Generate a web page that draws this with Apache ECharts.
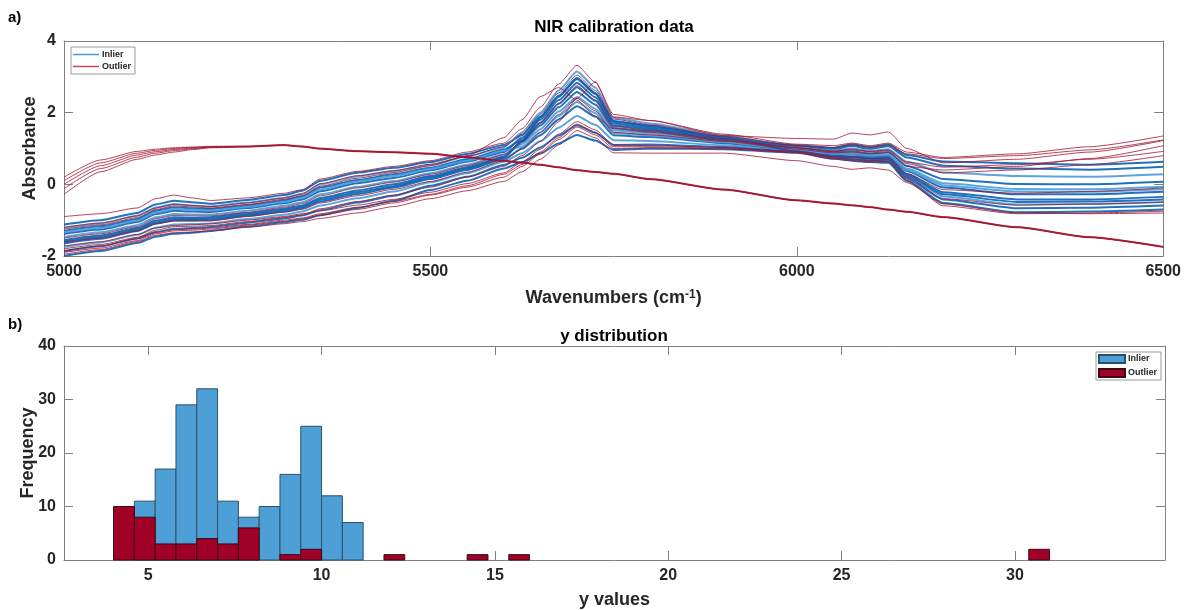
<!DOCTYPE html>
<html>
<head>
<meta charset="utf-8">
<script src="https://cdn.jsdelivr.net/npm/echarts@6/dist/echarts.min.js"></script>
<style>
  body { margin: 0; background: #fff; }
  #main { width: 1184px; height: 610px; }
</style>
</head>
<body>
<div id="main"></div>
<script>
// wavenumber grid (cm-1) for the spectra
const wavenumbers = [5000, 5050, 5100, 5125, 5150, 5175, 5200, 5250, 5300, 5325, 5350, 5400, 5450, 5500, 5550, 5600, 5625, 5650, 5675, 5700, 5725, 5750, 5800, 5900, 6000, 6050, 6075, 6100, 6125, 6150, 6200, 6300, 6400, 6500];

// inlier spectra
const inlier01 = [-1.12,-1.00,-0.80,-0.56,-0.46,-0.50,-0.54,-0.44,-0.30,-0.18,0.10,0.32,0.46,0.62,0.85,1.10,1.37,1.89,2.47,2.97,2.55,1.77,1.63,1.32,1.09,1.02,1.12,1.04,1.11,0.82,0.64,0.59,0.55,0.63];
const inlier02 = [-1.21,-1.09,-0.88,-0.65,-0.55,-0.59,-0.62,-0.51,-0.38,-0.26,0.00,0.22,0.37,0.54,0.78,1.03,1.45,2.00,2.62,3.15,2.70,1.86,1.70,1.36,1.03,0.94,1.00,0.93,0.98,0.63,0.33,0.23,0.21,0.28];
const inlier03 = [-1.30,-1.17,-0.97,-0.74,-0.64,-0.67,-0.69,-0.59,-0.45,-0.34,-0.09,0.12,0.28,0.46,0.70,0.97,1.24,1.72,2.25,2.71,2.33,1.64,1.53,1.27,1.07,0.99,1.07,0.99,1.06,0.75,0.52,0.44,0.41,0.49];
const inlier04 = [-1.38,-1.26,-1.05,-0.83,-0.74,-0.76,-0.77,-0.66,-0.53,-0.42,-0.19,0.03,0.18,0.39,0.63,0.90,1.30,1.80,2.35,2.83,2.43,1.70,1.57,1.29,1.00,0.90,0.92,0.86,0.90,0.52,0.15,0.01,0.00,0.07];
const inlier05 = [-1.47,-1.34,-1.14,-0.92,-0.83,-0.84,-0.84,-0.74,-0.60,-0.50,-0.28,-0.07,0.09,0.31,0.55,0.84,1.12,1.54,2.03,2.44,2.11,1.50,1.42,1.21,0.98,0.86,0.88,0.82,0.84,0.44,0.03,-0.13,-0.14,-0.07];
const inlier06 = [-1.56,-1.43,-1.22,-1.01,-0.92,-0.93,-0.92,-0.81,-0.68,-0.59,-0.38,-0.17,0.00,0.23,0.48,0.77,1.18,1.64,2.15,2.58,2.23,1.57,1.48,1.24,0.96,0.83,0.83,0.77,0.79,0.37,-0.09,-0.28,-0.28,-0.21];
const inlier07 = [-1.65,-1.52,-1.30,-1.10,-1.01,-1.01,-1.00,-0.88,-0.76,-0.67,-0.48,-0.27,-0.09,0.15,0.40,0.70,0.99,1.37,1.81,2.18,1.89,1.37,1.32,1.15,0.94,0.80,0.78,0.73,0.74,0.29,-0.22,-0.42,-0.42,-0.35];
const inlier08 = [-1.75,-1.62,-1.41,-1.21,-1.12,-1.11,-1.09,-0.97,-0.85,-0.76,-0.59,-0.39,-0.20,0.06,0.31,0.63,0.87,1.20,1.58,1.91,1.66,1.23,1.21,1.09,0.91,0.77,0.73,0.69,0.68,0.21,-0.34,-0.56,-0.55,-0.49];
const inlier09 = [-1.87,-1.73,-1.51,-1.33,-1.24,-1.22,-1.19,-1.07,-0.95,-0.87,-0.72,-0.51,-0.32,-0.04,0.21,0.54,0.74,1.03,1.36,1.65,1.44,1.10,1.11,1.04,0.90,0.75,0.70,0.66,0.64,0.16,-0.42,-0.67,-0.65,-0.59];
const inlier10 = [-2.00,-1.86,-1.64,-1.46,-1.38,-1.35,-1.30,-1.18,-1.06,-0.99,-0.86,-0.66,-0.46,-0.16,0.10,0.44,0.62,0.86,1.14,1.38,1.22,0.96,1.00,0.98,0.88,0.72,0.66,0.62,0.60,0.10,-0.52,-0.78,-0.76,-0.70];
const inlier11 = [-1.34,-1.22,-1.01,-0.79,-0.69,-0.71,-0.73,-0.63,-0.49,-0.38,-0.14,0.08,0.23,0.43,0.66,0.94,1.05,1.45,1.91,2.30,1.99,1.43,1.36,1.18,0.97,0.85,0.85,0.80,0.82,0.40,-0.03,-0.20,-0.21,-0.14];
const inlier12 = [-1.60,-1.47,-1.26,-1.06,-0.97,-0.97,-0.96,-0.85,-0.72,-0.63,-0.43,-0.22,-0.05,0.19,0.44,0.74,1.20,1.86,2.44,2.94,2.52,1.75,1.62,1.31,0.92,0.78,0.76,0.71,0.71,0.25,-0.28,-0.49,-0.48,-0.42];

// outlier spectra
const outlier01 = [-0.90,-0.82,-0.66,-0.40,-0.30,-0.38,-0.45,-0.38,-0.25,-0.15,0.15,0.36,0.50,0.66,0.90,1.15,1.55,2.15,2.80,3.32,2.85,1.95,1.78,1.40,1.12,1.08,1.15,1.08,1.15,0.90,0.75,0.85,1.05,1.35];
const outlier02 = [-1.80,-1.68,-1.48,-1.28,-1.18,-1.17,-1.15,-1.04,-0.92,-0.85,-0.68,-0.48,-0.30,-0.08,0.20,0.50,0.80,1.20,1.75,2.40,2.86,1.88,1.78,1.36,1.28,1.26,1.43,1.38,1.46,1.00,0.60,0.70,0.90,1.22];
const outlier03 = [-1.25,-1.13,-0.93,-0.70,-0.60,-0.63,-0.66,-0.56,-0.42,-0.31,-0.05,0.17,0.33,0.52,0.80,1.30,1.80,2.45,2.70,2.35,1.90,1.55,1.45,1.22,1.02,0.93,0.98,0.92,0.96,0.58,0.32,0.40,0.55,0.80];
const outlier04 = [-1.95,-1.82,-1.60,-1.42,-1.35,-1.33,-1.30,-1.20,-1.10,-1.04,-0.95,-0.80,-0.62,-0.40,-0.18,0.08,0.35,0.70,1.10,1.50,1.30,0.88,0.87,0.87,0.66,0.50,0.42,0.46,0.40,0.05,-0.55,-0.80,-0.82,-0.80];
const outlier05 = [-1.90,-1.78,-1.57,-1.38,-1.30,-1.28,-1.25,-1.14,-1.03,-0.96,-0.86,-0.70,-0.52,-0.30,-0.08,0.20,0.50,0.85,1.25,1.60,1.38,1.00,1.02,0.99,0.88,0.70,0.66,0.62,0.64,0.10,-0.60,-0.82,-0.80,-0.75];
const outlier06 = [-1.72,-1.60,-1.40,-1.22,-1.15,-1.13,-1.10,-1.00,-0.90,-0.82,-0.74,-0.58,-0.42,-0.22,0.02,0.32,0.62,0.98,1.40,1.75,1.52,1.10,1.08,1.03,0.90,0.74,0.70,0.66,0.68,0.20,-0.40,-0.58,-0.55,-0.50];
const outlier07 = [-1.20,-1.08,-0.88,-0.66,-0.56,-0.59,-0.62,-0.52,-0.38,-0.27,0.02,0.24,0.38,0.56,0.78,1.05,1.40,1.95,2.55,3.05,2.62,1.82,1.66,1.34,1.08,1.02,1.10,1.03,1.10,0.85,0.72,0.80,0.96,1.24];
const outlier08 = [-1.50,-1.38,-1.18,-0.96,-0.87,-0.88,-0.88,-0.78,-0.64,-0.54,-0.32,-0.10,0.06,0.28,0.52,0.82,1.20,1.70,2.25,2.75,2.35,1.62,1.50,1.26,1.02,0.92,0.96,0.90,0.94,0.62,0.48,0.55,0.70,0.92];
const outlier09 = [-1.85,-1.72,-1.52,-1.35,-1.27,-1.25,-1.22,-1.12,-1.00,-0.94,-0.82,-0.64,-0.48,-0.28,-0.04,0.28,0.55,0.90,1.30,1.68,1.45,1.05,1.05,1.01,0.92,0.78,0.76,0.72,0.74,0.30,-0.15,-0.25,-0.20,-0.10];
const outlier10 = [-1.62,-1.50,-1.30,-1.10,-1.02,-1.02,-1.02,-0.90,-0.78,-0.70,-0.52,-0.32,-0.14,0.08,0.34,0.66,1.00,1.45,1.95,2.40,2.05,1.45,1.38,1.20,0.98,0.88,0.90,0.85,0.88,0.50,0.40,0.50,0.72,1.08];
// the odd group that rises early and then falls away
const outlier11 = [0.20,0.68,0.92,0.98,1.02,1.04,1.06,1.07,1.11,1.07,1.01,0.94,0.91,0.87,0.77,0.67,0.62,0.56,0.49,0.41,0.36,0.31,0.16,-0.13,-0.43,-0.52,-0.57,-0.62,-0.69,-0.75,-0.90,-1.18,-1.46,-1.73];
const outlier12 = [0.10,0.60,0.87,0.95,1.00,1.03,1.05,1.06,1.10,1.06,1.00,0.93,0.90,0.86,0.76,0.66,0.61,0.55,0.48,0.40,0.35,0.30,0.15,-0.14,-0.44,-0.53,-0.58,-0.63,-0.70,-0.76,-0.91,-1.19,-1.47,-1.74];
const outlier13 = [0.00,0.52,0.82,0.91,0.97,1.01,1.04,1.05,1.09,1.05,0.99,0.92,0.89,0.85,0.75,0.65,0.60,0.54,0.47,0.39,0.34,0.29,0.14,-0.15,-0.45,-0.54,-0.59,-0.64,-0.71,-0.77,-0.92,-1.20,-1.48,-1.75];
const outlier14 = [-0.12,0.44,0.76,0.87,0.94,0.99,1.03,1.05,1.09,1.05,0.99,0.92,0.89,0.85,0.75,0.65,0.60,0.54,0.47,0.39,0.34,0.29,0.14,-0.15,-0.45,-0.54,-0.59,-0.64,-0.71,-0.77,-0.92,-1.20,-1.48,-1.75];
const outlier15 = [-0.28,0.35,0.70,0.82,0.90,0.97,1.02,1.04,1.08,1.04,0.98,0.91,0.88,0.84,0.74,0.64,0.59,0.53,0.46,0.38,0.33,0.28,0.13,-0.16,-0.46,-0.55,-0.60,-0.65,-0.72,-0.78,-0.93,-1.21,-1.49,-1.76];

const inlierSpectra = [inlier01, inlier02, inlier03, inlier04, inlier05, inlier06, inlier07, inlier08, inlier09, inlier10, inlier11, inlier12];
const outlierSpectra = [outlier01, outlier02, outlier03, outlier04, outlier05, outlier06, outlier07, outlier08, outlier09, outlier10, outlier11, outlier12, outlier13, outlier14, outlier15];

// y histogram (bin left edge, counts), bin width 0.6
const binWidth = 0.6;
const inlierBins = [4.6, 5.2, 5.8, 6.4, 7.0, 7.6, 8.2, 8.8, 9.4, 10.0, 10.6];
const inlierCounts = [11, 17, 29, 32, 11, 8, 10, 16, 25, 12, 7];
const outlierBins = [4.0, 4.6, 5.2, 5.8, 6.4, 7.0, 7.6, 8.8, 9.4, 11.8, 14.2, 15.4, 30.4];
const outlierCounts = [10, 8, 3, 3, 4, 3, 6, 1, 2, 1, 1, 1, 2];

const histTicks = [5, 10, 15, 20, 25, 30];

const FONT = "Liberation Sans, Arial, Helvetica, sans-serif";
const TXT = "#262626";
const AX = "#808080";
const BLUE = "#0a62b4";
const RED = "#a2142f";

let chart = echarts.init(document.getElementById("main"));

function axisBase(extra) {
  return Object.assign({
    type: "value",
    axisLine: { show: true, onZero: false, lineStyle: { color: AX, width: 1 } },
    axisTick: { show: true, inside: true, length: 9, lineStyle: { color: AX } },
    axisLabel: { color: TXT, fontSize: 16, fontWeight: "bold", fontFamily: FONT, margin: 8,
      formatter: function(v) { return String(v); } },
    splitLine: { show: false }
  }, extra);
}
function mirror(extra) {
  let a = axisBase(extra);
  a.axisLabel = { show: false };
  return a;
}

let series = [];
inlierSpectra.forEach(function(curve, k) {
  let c = k % 3 === 1 ? "#4a9ad8" : BLUE;
  series.push({
    name: "Inlier",
    type: "line",
    xAxisIndex: 0, yAxisIndex: 0,
    data: wavenumbers.map(function(w, i) { return [w, curve[i]]; }),
    symbol: "none",
    smooth: 0.2,
    smoothMonotone: "x",
    itemStyle: { color: "#4a9ad8" },
    lineStyle: { width: 2, color: c, opacity: 0.9 },
    silent: true,
    z: 2
  });
});
outlierSpectra.forEach(function(curve) {
  series.push({
    name: "Outlier",
    type: "line",
    xAxisIndex: 0, yAxisIndex: 0,
    data: wavenumbers.map(function(w, i) { return [w, curve[i]]; }),
    symbol: "none",
    smooth: 0.2,
    smoothMonotone: "x",
    itemStyle: { color: "#c2495f" },
    lineStyle: { width: 1, color: RED, opacity: 0.8 },
    silent: true,
    z: 3
  });
});

function histRender(fill, stroke) {
  return function(params, api) {
    let p0 = api.coord([api.value(0), 0]);
    let p1 = api.coord([api.value(1), api.value(2)]);
    return {
      type: "rect",
      shape: { x: p0[0], y: p1[1], width: p1[0] - p0[0], height: p0[1] - p1[1] },
      style: { fill: fill, stroke: stroke, lineWidth: 1 }
    };
  };
}

series.push({
  name: "Inlier ",
  type: "custom",
  xAxisIndex: 2, yAxisIndex: 2,
  renderItem: histRender("#4d9fd6", "#2d4f6a"),
  itemStyle: { color: "#4d9fd6", borderColor: "#2d4f6a", borderWidth: 1 },
  encode: { x: [0, 1], y: 2 },
  data: inlierBins.map(function(b, i) { return [b, b + binWidth, inlierCounts[i]]; }),
  z: 2
});
series.push({
  name: "Outlier ",
  type: "custom",
  xAxisIndex: 2, yAxisIndex: 2,
  renderItem: histRender("#a10027", "#3b0a14"),
  itemStyle: { color: "#a10027", borderColor: "#3b0a14", borderWidth: 1 },
  encode: { x: [0, 1], y: 2 },
  data: outlierBins.map(function(b, i) { return [b, b + binWidth, outlierCounts[i]]; }),
  z: 3
});

let legendText = { fontSize: 9, fontWeight: "bold", color: TXT, fontFamily: FONT, padding: [0, 0, 0, -2] };

let option = {
  backgroundColor: "#ffffff",
  animation: false,
  grid: [
    { left: 64, top: 41, width: 1100, height: 215 },
    { left: 64, top: 346, width: 1101, height: 215 }
  ],
  xAxis: [
    axisBase({
      gridIndex: 0, position: "bottom", min: 5000, max: 6500, interval: 500,
      name: "{t|Wavenumbers (cm}{s|-1}{t|)}",
      nameLocation: "middle", nameGap: 33,
      nameTextStyle: {
        rich: {
          t: { fontSize: 18, fontWeight: "bold", color: TXT, fontFamily: FONT },
          s: { fontSize: 12, fontWeight: "bold", color: TXT, fontFamily: FONT, verticalAlign: "top" }
        }
      }
    }),
    mirror({ gridIndex: 0, position: "top", min: 5000, max: 6500, interval: 500 }),
    axisBase({
      gridIndex: 1, position: "bottom", min: 2.57, max: 34.33,
      axisTick: { show: true, inside: true, length: 9, lineStyle: { color: AX }, customValues: histTicks },
      axisLabel: { color: TXT, fontSize: 16, fontWeight: "bold", fontFamily: FONT, margin: 8, customValues: histTicks },
      name: "y values", nameLocation: "middle", nameGap: 31,
      nameTextStyle: { fontSize: 18, fontWeight: "bold", color: TXT, fontFamily: FONT }
    }),
    mirror({
      gridIndex: 1, position: "top", min: 2.57, max: 34.33,
      axisTick: { show: true, inside: true, length: 9, lineStyle: { color: AX }, customValues: histTicks }
    })
  ],
  yAxis: [
    axisBase({
      gridIndex: 0, position: "left", min: -2, max: 4, interval: 2,
      name: "Absorbance", nameLocation: "middle", nameGap: 25, nameRotate: 90, nameMoveOverlap: false,
      nameTextStyle: { fontSize: 18, fontWeight: "bold", color: TXT, fontFamily: FONT }
    }),
    mirror({ gridIndex: 0, position: "right", min: -2, max: 4, interval: 2 }),
    axisBase({
      gridIndex: 1, position: "left", min: 0, max: 40, interval: 10,
      name: "Frequency", nameLocation: "middle", nameGap: 27, nameRotate: 90, nameMoveOverlap: false,
      nameTextStyle: { fontSize: 18, fontWeight: "bold", color: TXT, fontFamily: FONT }
    }),
    mirror({ gridIndex: 1, position: "right", min: 0, max: 40, interval: 10 })
  ],
  legend: [
    {
      data: [
        { name: "Inlier", icon: "rect", itemStyle: { color: "#4a9ad8" } },
        { name: "Outlier", icon: "rect", itemStyle: { color: "#c2495f" } }
      ],
      orient: "vertical", left: 71, top: 47,
      itemWidth: 26, itemHeight: 1.5, itemGap: 3,
      padding: [3, 4, 3, 2],
      borderColor: "#9a9a9a", borderWidth: 1, backgroundColor: "#fff",
      textStyle: legendText,
      selectedMode: false
    },
    {
      data: [{ name: "Inlier ", icon: "rect" }, { name: "Outlier ", icon: "rect" }],
      orient: "vertical", left: 1096, top: 352,
      itemWidth: 26, itemHeight: 8, itemGap: 4,
      padding: [2, 4, 2, 2],
      borderColor: "#9a9a9a", borderWidth: 1, backgroundColor: "#fff",
      textStyle: legendText,
      formatter: function(n) { return n.trim(); },
      selectedMode: false
    }
  ],
  graphic: [
    { type: "text", left: 8, top: 10, style: { text: "a)", font: "bold 15px " + FONT, fill: "#000" } },
    { type: "text", x: 614, y: 27, style: { text: "NIR calibration data", font: "bold 17px " + FONT, fill: "#000", align: "center", verticalAlign: "middle" } },
    { type: "text", left: 8, top: 317, style: { text: "b)", font: "bold 15px " + FONT, fill: "#000" } },
    { type: "text", x: 614, y: 336, style: { text: "y distribution", font: "bold 17px " + FONT, fill: "#000", align: "center", verticalAlign: "middle" } }
  ],
  series: series
};

chart.setOption(option);
</script>
</body>
</html>
